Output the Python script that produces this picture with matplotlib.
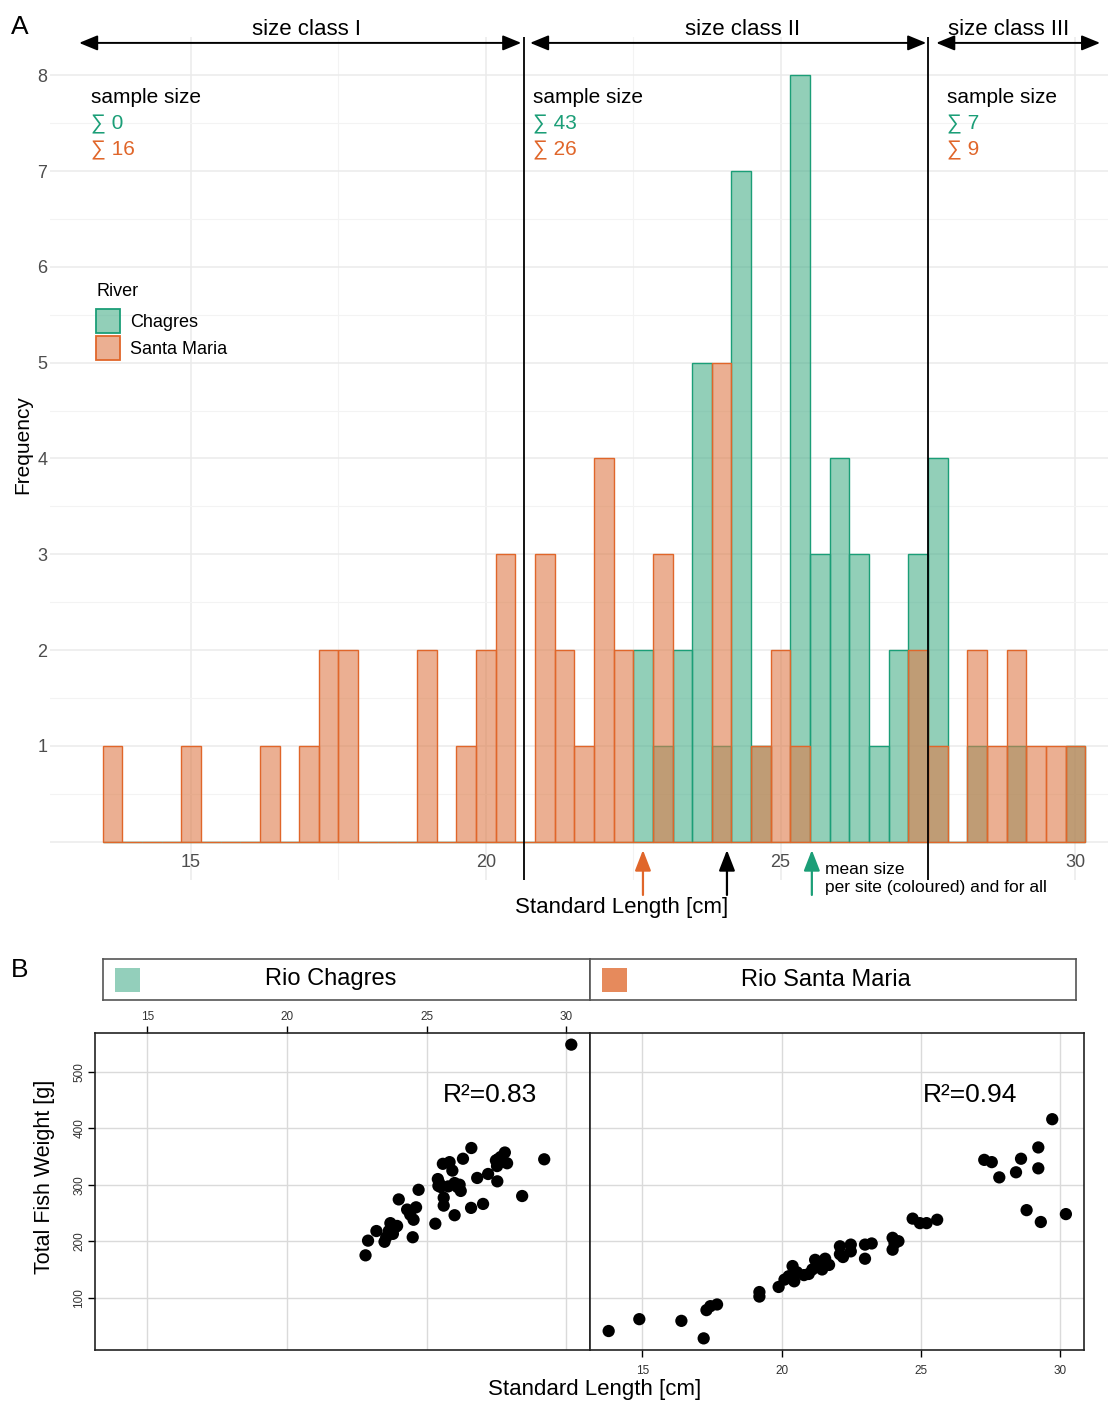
import numpy as np
import matplotlib
matplotlib.use("Agg")
import matplotlib.pyplot as plt
from matplotlib.patches import Patch, Rectangle

plt.rcParams['font.family'] = ['Liberation Sans', 'DejaVu Sans']

# ---- panel A: length histogram, bins of 1/3 cm starting at 13.5 cm
bin_start = 13.5
bin_w = 1 / 3
santa_counts = [1, 0, 0, 0, 1, 0, 0, 0, 1, 0,
                1, 2, 2, 0, 0, 0, 2, 0, 1, 2,
                3, 0, 3, 2, 1, 4, 2, 0, 3, 0,
                0, 5, 0, 1, 2, 1, 0, 0, 0, 0,
                0, 2, 1, 0, 2, 1, 2, 1, 1, 1]
chagres_counts = [0, 0, 0, 0, 0, 0, 0, 0, 0, 0,
                  0, 0, 0, 0, 0, 0, 0, 0, 0, 0,
                  0, 0, 0, 0, 0, 0, 0, 2, 1, 2,
                  5, 1, 7, 1, 0, 8, 3, 4, 3, 1,
                  2, 3, 4, 0, 1, 0, 1, 0, 0, 1]

class_bounds = [20.65, 27.5]
class_spans = [(13.10, 20.60), (20.75, 27.47), (27.64, 30.42)]
class_names = ["size class I", "size class II", "size class III"]
class_label_x = [16.95, 24.36, 28.86]
class_text_x = [13.30, 20.80, 27.82]
n_chagres = [0, 43, 7]
n_santa = [16, 26, 9]

mean_santa = 22.665
mean_all = 24.09
mean_chagres = 25.53

# ---- panel B: length / weight
chagres_len = [22.81, 22.90, 23.20, 23.49, 23.64, 23.70, 23.79, 23.88, 23.94, 23.55,
               24.00, 24.30, 24.62, 24.41, 24.53, 24.50, 24.71, 25.31, 25.40, 25.42,
               25.45, 25.50, 25.61, 25.61, 25.58, 25.82, 25.92, 25.77, 26.00, 26.18,
               26.22, 26.00, 26.10, 26.30, 26.60, 26.59, 26.81, 27.02, 27.20, 27.53,
               27.48, 27.52, 27.60, 27.65, 27.80, 27.88, 27.55, 28.42, 29.21, 30.18]
chagres_wt = [175, 201, 218, 199, 218, 232, 213, 225, 227, 207,
              274, 256, 260, 247, 238, 207, 291, 231, 310, 298,
              303, 296, 277, 263, 337, 340, 325, 297, 303, 300,
              289, 246, 296, 346, 365, 259, 312, 266, 319, 306,
              343, 333, 340, 349, 357, 338, 345, 280, 345, 548]

santa_len = [13.79, 14.89, 16.40, 17.20, 17.30, 17.44, 17.68, 19.20, 19.20, 19.89,
             20.10, 20.25, 20.39, 20.45, 20.55, 20.97, 21.10, 21.20, 21.45, 21.56,
             21.57, 21.70, 22.09, 22.09, 22.48, 22.48, 22.99, 23.23, 22.99, 23.98,
             24.19, 23.98, 24.05, 24.70, 24.96, 25.20, 25.58, 27.27, 27.54, 27.81,
             28.41, 28.59, 29.21, 29.21, 29.71, 28.79, 29.30, 30.20, 20.80, 22.20, 21.30]
santa_wt = [41, 62, 59, 28, 78, 85, 88, 110, 102, 119,
            132, 138, 156, 129, 145, 142, 150, 167, 150, 169,
            162, 158, 191, 177, 194, 182, 194, 196, 169, 206,
            200, 185, 196, 240, 232, 232, 238, 344, 340, 313,
            322, 346, 366, 329, 416, 255, 234, 248, 140, 172, 155]

r2_labels = ["R\u00b2=0.83", "R\u00b2=0.94"]
r2_pos = [(25.58, 459), (25.05, 459)]
strip_names = ["Rio Chagres", "Rio Santa Maria"]

GREEN_EDGE = "#1b9e77"
ORANGE_EDGE = "#e0662a"
green_fill = (0.286, 0.686, 0.541, 0.6)
orange_fill = (0.871, 0.482, 0.286, 0.6)

W, H = 1108, 1403


def box(l, t, r, b):
    return [l / W, 1 - b / H, (r - l) / W, (b - t) / H]


fig = plt.figure(figsize=(W / 100, H / 100), dpi=100)

axA = fig.add_axes(box(50, 37, 1108, 880))
lefts = bin_start + bin_w * np.arange(len(santa_counts))
axA.bar(lefts, chagres_counts, width=bin_w, align='edge', facecolor=green_fill,
        edgecolor=GREEN_EDGE, linewidth=1.0, zorder=2)
axA.bar(lefts, santa_counts, width=bin_w, align='edge', facecolor=orange_fill,
        edgecolor=ORANGE_EDGE, linewidth=1.0, zorder=2)

axA.set_xlim(12.606, 30.554)
axA.set_ylim(-0.4, 8.4)
axA.set_xticks([15, 20, 25, 30])
axA.set_xticks([17.5, 22.5, 27.5], minor=True)
axA.set_yticks(range(9))
axA.set_yticklabels([''] + [str(i) for i in range(1, 9)])
axA.set_yticks(np.arange(0.5, 8, 1), minor=True)
axA.grid(which='major', color='#ebebeb', linewidth=1.1)
axA.grid(which='minor', color='#f3f3f3', linewidth=0.8)
axA.set_axisbelow(True)
axA.tick_params(which='both', length=0, labelsize=13, labelcolor='#4d4d4d')
axA.tick_params(axis='x', pad=-18.4)
axA.tick_params(axis='y', pad=2)
for s in axA.spines.values():
    s.set_visible(False)

for xb in class_bounds:
    axA.axvline(xb, color='black', linewidth=1.3, zorder=4)

for (x0, x1), name, lx in zip(class_spans, class_names, class_label_x):
    axA.annotate('', xy=(x1, 0.993), xytext=(x0, 0.993),
                 xycoords=('data', 'axes fraction'),
                 arrowprops=dict(arrowstyle='<|-|>,head_length=0.8,head_width=0.33',
                                 color='black', lw=1.4, shrinkA=0, shrinkB=0,
                                 mutation_scale=14),
                 annotation_clip=False)
    axA.text(lx, 1.0085, name, transform=axA.get_xaxis_transform(),
             ha='center', va='center', fontsize=16)

for tx, nc, ns in zip(class_text_x, n_chagres, n_santa):
    axA.text(tx, 7.773, "sample size", ha='left', va='center', fontsize=15)
    axA.text(tx, 7.491, "\u2211 %d" % nc, ha='left', va='center', fontsize=15,
             color=GREEN_EDGE)
    axA.text(tx, 7.219, "\u2211 %d" % ns, ha='left', va='center', fontsize=15,
             color=ORANGE_EDGE)

for mx, col in [(mean_santa, ORANGE_EDGE), (mean_all, 'black'), (mean_chagres, GREEN_EDGE)]:
    axA.annotate('', xy=(mx, -0.087), xytext=(mx, -0.556),
                 arrowprops=dict(arrowstyle='-|>,head_length=0.9,head_width=0.35',
                                 color=col, lw=1.6, shrinkA=0, shrinkB=0,
                                 mutation_scale=14),
                 annotation_clip=False)
axA.text(mean_chagres + 0.22, -0.295, "mean size", ha='left', va='center',
         fontsize=12.5, clip_on=False)
axA.text(mean_chagres + 0.22, -0.482, "per site (coloured) and for all",
         ha='left', va='center', fontsize=12.5, clip_on=False)

# legend: title as its own text, entries below
handles = [Patch(facecolor=green_fill, edgecolor=GREEN_EDGE, linewidth=1.3),
           Patch(facecolor=orange_fill, edgecolor=ORANGE_EDGE, linewidth=1.3)]
axA.legend(handles, ["Chagres", "Santa Maria"], loc='upper left',
           bbox_to_anchor=(96 / W, 1 - 309 / H), bbox_transform=fig.transFigure,
           frameon=False, fontsize=13, handlelength=1.35,
           handleheight=1.67, handletextpad=0.54, labelspacing=0.15,
           borderpad=0, borderaxespad=0)
fig.text(96 / W, 1 - 292 / H, "River", fontsize=13, ha='left', va='center')

fig.text(20 / W, 1 - 27 / H, "A", fontsize=19, ha='center', va='center')
fig.text(23 / W, 1 - 445 / H, "Frequency", fontsize=15, rotation=90,
         ha='center', va='center')
fig.text(622 / W, 1 - 908 / H, "Standard Length [cm]", fontsize=16,
         ha='center', va='center')

# ---- panel B
axL = fig.add_axes(box(95, 1033, 590, 1350))
axR = fig.add_axes(box(590, 1033, 1084, 1350))
for ax, xs, ys, lab, pos in [(axL, chagres_len, chagres_wt, r2_labels[0], r2_pos[0]),
                             (axR, santa_len, santa_wt, r2_labels[1], r2_pos[1])]:
    ax.scatter(xs, ys, s=78, c='black', edgecolors='none', zorder=3)
    ax.set_xlim(13.12, 30.85)
    ax.set_ylim(7.4, 568.6)
    ax.set_xticks([15, 20, 25, 30])
    ax.set_yticks([100, 200, 300, 400, 500])
    ax.grid(color='#dadada', linewidth=1.0)
    ax.set_axisbelow(True)
    for s in ax.spines.values():
        s.set_linewidth(1.2)
        s.set_color('#222222')
    ax.tick_params(length=5, width=1, labelsize=8.5, labelcolor='#333333', pad=2)
    ax.text(pos[0], pos[1], lab, fontsize=19, ha='left', va='center')

axL.tick_params(axis='x', top=True, bottom=False, labeltop=True, labelbottom=False)
axL.tick_params(axis='y', labelrotation=90)
for lbl in axL.get_yticklabels():
    lbl.set_va('center')
axR.tick_params(axis='y', left=False, labelleft=False)
axR.tick_params(axis='x', pad=5.6)

strip_boxes = [(103, 590), (590, 1076)]
strip_cols = ["#93cfbb", "#e68a5c"]
strip_text_x = [331, 826]
for (l, r), name, col, tx in zip(strip_boxes, strip_names, strip_cols, strip_text_x):
    sax = fig.add_axes(box(l, 959, r, 1000))
    sax.set_xticks([])
    sax.set_yticks([])
    for s in sax.spines.values():
        s.set_linewidth(1.2)
        s.set_color('#555555')
    w = r - l
    sax.add_patch(Rectangle((12 / w, 0.2), 25 / w, 0.58,
                            transform=sax.transAxes, color=col, linewidth=0))
    sax.text((tx - l) / w, 0.5, name, transform=sax.transAxes, fontsize=17,
             ha='center', va='center')

fig.text(20 / W, 1 - 970 / H, "B", fontsize=19, ha='center', va='center')
fig.text(45 / W, 1 - 1177 / H, "Total Fish Weight [g]", fontsize=15.5,
         rotation=90, ha='center', va='center')
fig.text(595 / W, 1 - 1390 / H, "Standard Length [cm]", fontsize=16,
         ha='center', va='center')

fig.savefig("out.png", dpi=100)
